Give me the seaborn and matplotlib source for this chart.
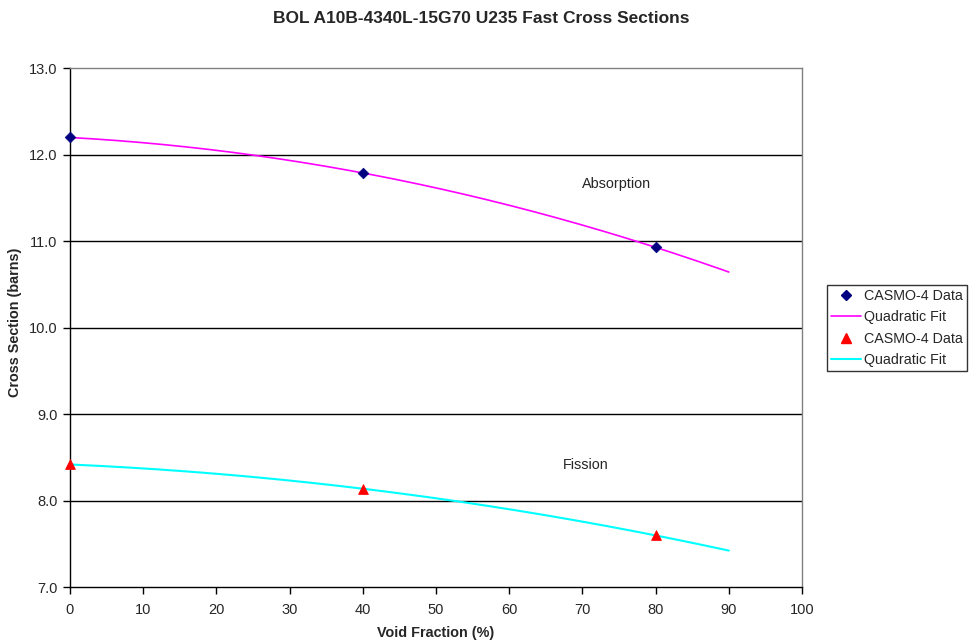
import numpy as np
import pandas as pd
import matplotlib
matplotlib.use("Agg")
import matplotlib.pyplot as plt
import seaborn as sns
from matplotlib.lines import Line2D

# CASMO-4 data points (void fraction %, cross section in barns)
void_fraction = [0, 40, 80]
absorption = [12.20, 11.79, 10.93]
fission = [8.42, 8.14, 7.60]

x_ticks = [0, 10, 20, 30, 40, 50, 60, 70, 80, 90, 100]
y_ticks = [7.0, 8.0, 9.0, 10.0, 11.0, 12.0, 13.0]
fit_range = (0, 90)

sns.set_style("white")
plt.rcParams["font.family"] = ["Liberation Sans", "DejaVu Sans"]

fig = plt.figure(figsize=(9.69, 6.43), dpi=100)
ax = fig.add_axes([0.0722, 0.0866, 0.7555, 0.8072])

# quadratic trendlines fitted to the data
xf = np.linspace(fit_range[0], fit_range[1], 200)
abs_fit = np.polyval(np.polyfit(void_fraction, absorption, 2), xf)
fis_fit = np.polyval(np.polyfit(void_fraction, fission, 2), xf)

for yv in y_ticks[1:-1]:
    ax.axhline(yv, color="black", lw=1.0, zorder=1)

df_abs = pd.DataFrame({"x": void_fraction, "y": absorption})
df_fis = pd.DataFrame({"x": void_fraction, "y": fission})

sns.lineplot(x=xf, y=abs_fit, ax=ax, color="#FF00FF", lw=1.2, zorder=3,
             label="_fit_abs")
sns.lineplot(x=xf, y=fis_fit, ax=ax, color="#00FFFF", lw=1.5, zorder=3,
             label="_fit_fis")
sns.scatterplot(data=df_abs, x="x", y="y", ax=ax, marker="D", s=30,
                color="#000080", edgecolor="#000080", zorder=4, clip_on=False,
                label="_pts_abs")
sns.scatterplot(data=df_fis, x="x", y="y", ax=ax, marker="^", s=50,
                color="#FF0000", edgecolor="#FF0000", zorder=4, clip_on=False,
                label="_pts_fis")

ax.set_xlim(0, 100)
ax.set_ylim(7.0, 13.0)
ax.set_xticks(x_ticks)
ax.set_yticks(y_ticks)
ax.set_yticklabels([f"{v:.1f}" for v in y_ticks])
ax.tick_params(axis="both", direction="out", length=5, width=1,
               labelsize=10.5, color="black", bottom=True, left=True)
ax.tick_params(axis="x", pad=6)
ax.tick_params(axis="y", pad=4)

for side in ["left", "bottom"]:
    ax.spines[side].set_color("black")
    ax.spines[side].set_linewidth(1.0)
for side in ["top", "right"]:
    ax.spines[side].set_color("#808080")
    ax.spines[side].set_linewidth(1.0)

ax.set_xlabel("Void Fraction (%)", fontsize=10.4, fontweight="bold", labelpad=7)
ax.set_ylabel("Cross Section (barns)", fontsize=10.4, fontweight="bold")
ax.yaxis.set_label_coords(-0.0656, 0.511)
fig.text(0.497, 0.972, "BOL A10B-4340L-15G70 U235 Fast Cross Sections",
         ha="center", va="center", fontsize=12.5, fontweight="bold")

ax.text(74.7, 11.66, "Absorption", ha="center", va="center", fontsize=10.4)
ax.text(70.4, 8.41, "Fission", ha="center", va="center", fontsize=10.4)

# legend
handles = [
    Line2D([], [], ls="none", marker="D", ms=5, color="#000080"),
    Line2D([], [], color="#FF00FF", lw=1.2),
    Line2D([], [], ls="none", marker="^", ms=7, color="#FF0000"),
    Line2D([], [], color="#00FFFF", lw=1.5),
]
labels = ["CASMO-4 Data", "Quadratic Fit", "CASMO-4 Data", "Quadratic Fit"]
leg = fig.legend(handles, labels, loc="upper left",
                 bbox_to_anchor=(0.8535, 0.5568), fontsize=10.3,
                 frameon=True, fancybox=False, edgecolor="black",
                 handlelength=2.1, handletextpad=0.2, labelspacing=0.5,
                 borderpad=0.3, borderaxespad=0)
leg.get_frame().set_linewidth(1.0)

fig.savefig("out.png", dpi=100)
